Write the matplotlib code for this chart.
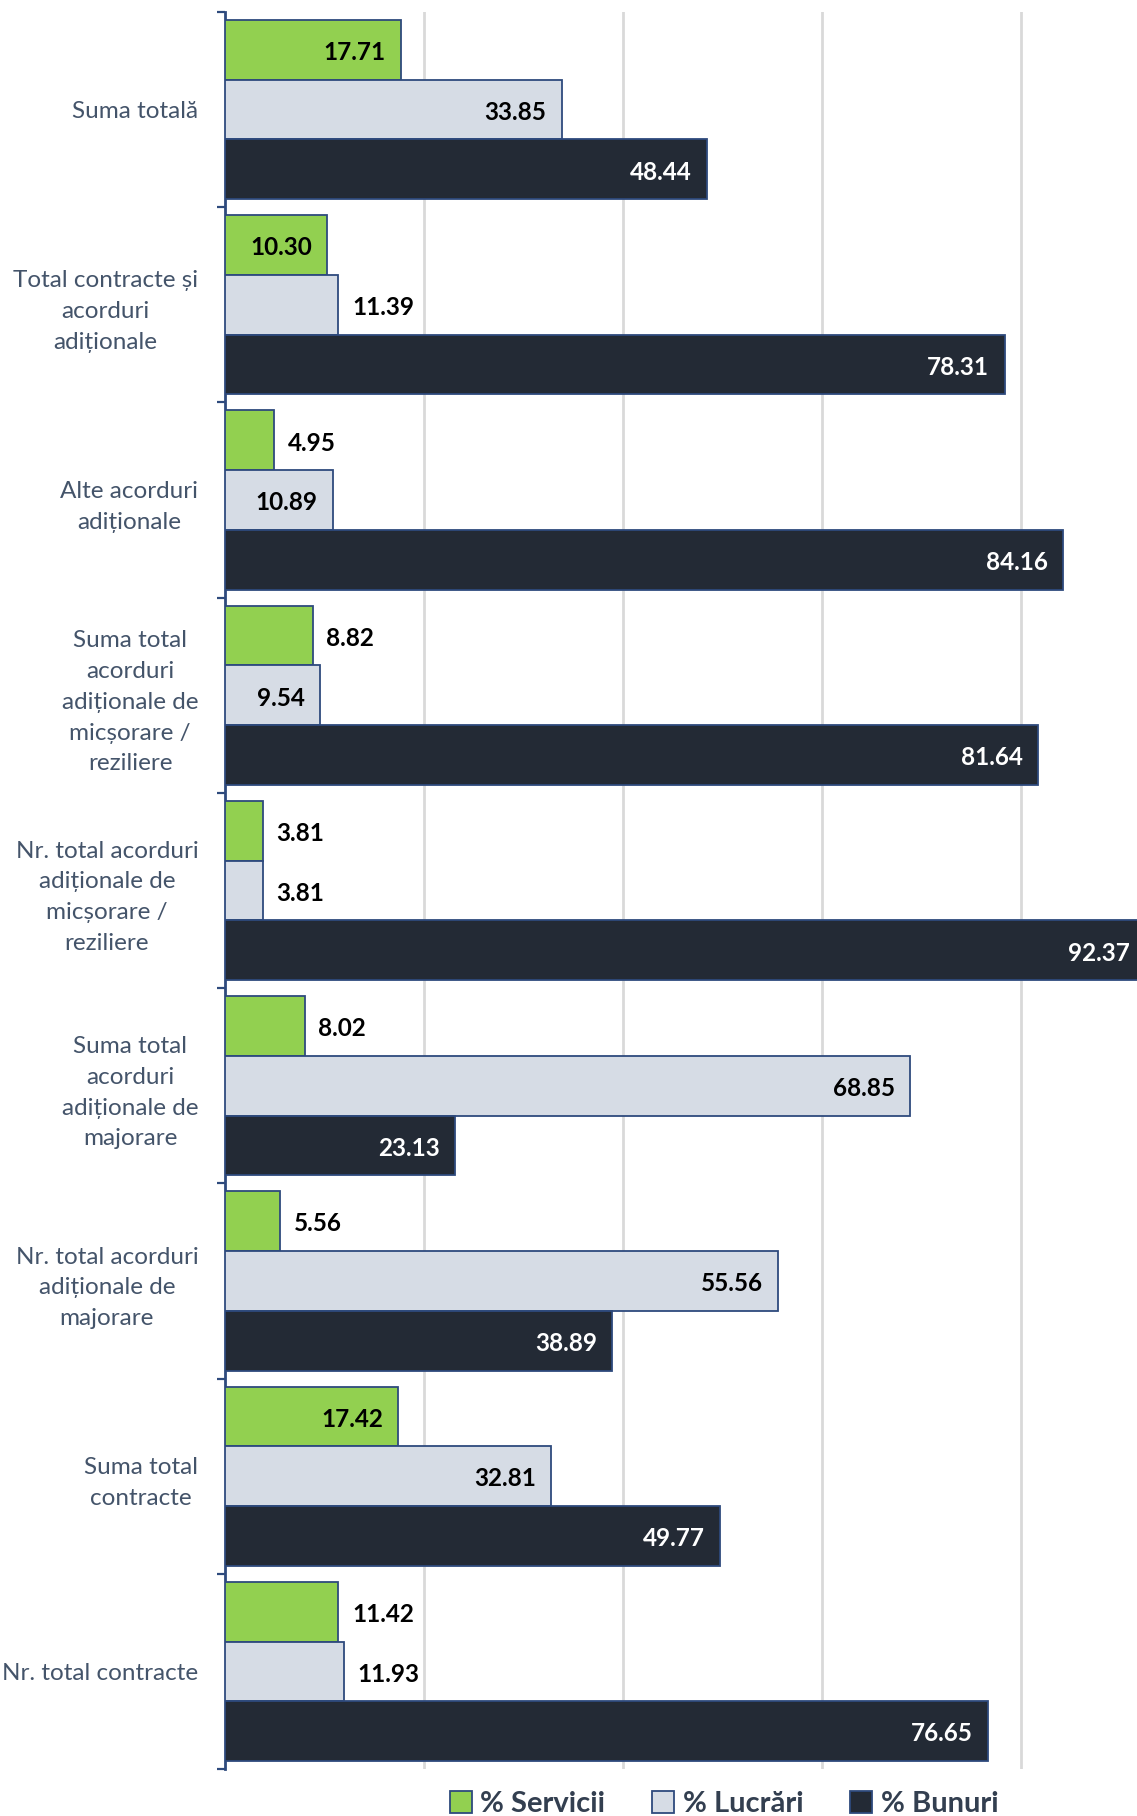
import numpy as np
import matplotlib.pyplot as plt
from matplotlib.patches import Patch

plt.rcParams['font.family'] = ['Lato', 'DejaVu Sans']

categorii = ['Suma totală',
             'Total contracte și\nacorduri\nadiționale',
             'Alte acorduri\nadiționale',
             'Suma total\nacorduri\nadiționale de\nmicșorare /\nreziliere',
             'Nr. total acorduri\nadiționale de\nmicșorare /\nreziliere',
             'Suma total\nacorduri\nadiționale de\nmajorare',
             'Nr. total acorduri\nadiționale de\nmajorare',
             'Suma total\ncontracte',
             'Nr. total contracte']
servicii = [17.71, 10.30, 4.95, 8.82, 3.81, 8.02, 5.56, 17.42, 11.42]
lucrari = [33.85, 11.39, 10.89, 9.54, 3.81, 68.85, 55.56, 32.81, 11.93]
bunuri = [48.44, 78.31, 84.16, 81.64, 92.37, 23.13, 38.89, 49.77, 76.65]
# eticheta in interiorul barei (True) sau in afara ei (False)
serv_inside = [True, True, False, False, False, False, False, True, False]
lucr_inside = [True, False, True, True, False, True, True, True, False]
bun_inside = [True] * 9

verde = '#92D050'
gri = '#D6DCE5'
inchis = '#232A35'
margine = '#2E4A7D'

fig = plt.figure(figsize=(11.37, 18.16), dpi=100)
ax = fig.add_axes([224.7 / 1137, 47 / 1816, (1137 - 224.7) / 1137, 1757 / 1816])

y = np.arange(len(categorii)) + 0.5
h = 0.306
serii = [(servicii, verde, -h, serv_inside, 'black', '% Servicii'),
         (lucrari, gri, 0, lucr_inside, 'black', '% Lucrări'),
         (bunuri, inchis, h, bun_inside, 'white', '% Bunuri')]

for vals, col, off, inside, tcol, nume in serii:
    bars = ax.barh(y + off, vals, height=h, color=col, edgecolor=margine,
                   linewidth=1.3, zorder=3)
    for b, v, ins in zip(bars, vals, inside):
        yc = b.get_y() + b.get_height() / 2
        if ins:
            ax.annotate(f'{v:.2f}', (v, yc), xytext=(-11, -2), textcoords='offset points',
                        ha='right', va='center', fontsize=17.5, fontweight='bold',
                        color=tcol, zorder=4, annotation_clip=False)
        else:
            ax.annotate(f'{v:.2f}', (v, yc), xytext=(10, -2), textcoords='offset points',
                        ha='left', va='center', fontsize=17.5, fontweight='bold',
                        color='black', zorder=4)

ax.set_xlim(0, 91.6)
ax.set_ylim(len(categorii), 0)
ax.set_xticks([20, 40, 60, 80])
ax.xaxis.grid(True, color='#D9D9D9', linewidth=2)
ax.set_axisbelow(True)
ax.tick_params(axis='x', length=0, labelbottom=False)

ax.set_yticks(np.arange(len(categorii) + 1))
ax.set_yticklabels([])
ax.tick_params(axis='y', which='major', length=6, width=1.6, color=margine, direction='out')
ax.set_yticks(y, minor=True)
ax.set_yticklabels(categorii, minor=True, multialignment='center', linespacing=1.58)
ax.tick_params(axis='y', which='minor', length=0, pad=19, labelsize=17.5, labelcolor='#44546A')

for s in ['top', 'right', 'bottom']:
    ax.spines[s].set_visible(False)
ax.spines['left'].set_color(margine)
ax.spines['left'].set_linewidth(2)

handles = [Patch(facecolor=c, edgecolor=margine, linewidth=1.3) for _, c, *_ in serii]
etichete = [s[5] for s in serii]
leg = fig.legend(handles, etichete, loc='center', bbox_to_anchor=(724 / 1137, 0.0065),
                 ncol=3, frameon=False, fontsize=21, handlelength=0.75, handleheight=0.75,
                 handletextpad=0.3, columnspacing=1.6)
for t in leg.get_texts():
    t.set_fontweight('bold')
    t.set_color('#333F50')

fig.savefig('out.png', dpi=100)
